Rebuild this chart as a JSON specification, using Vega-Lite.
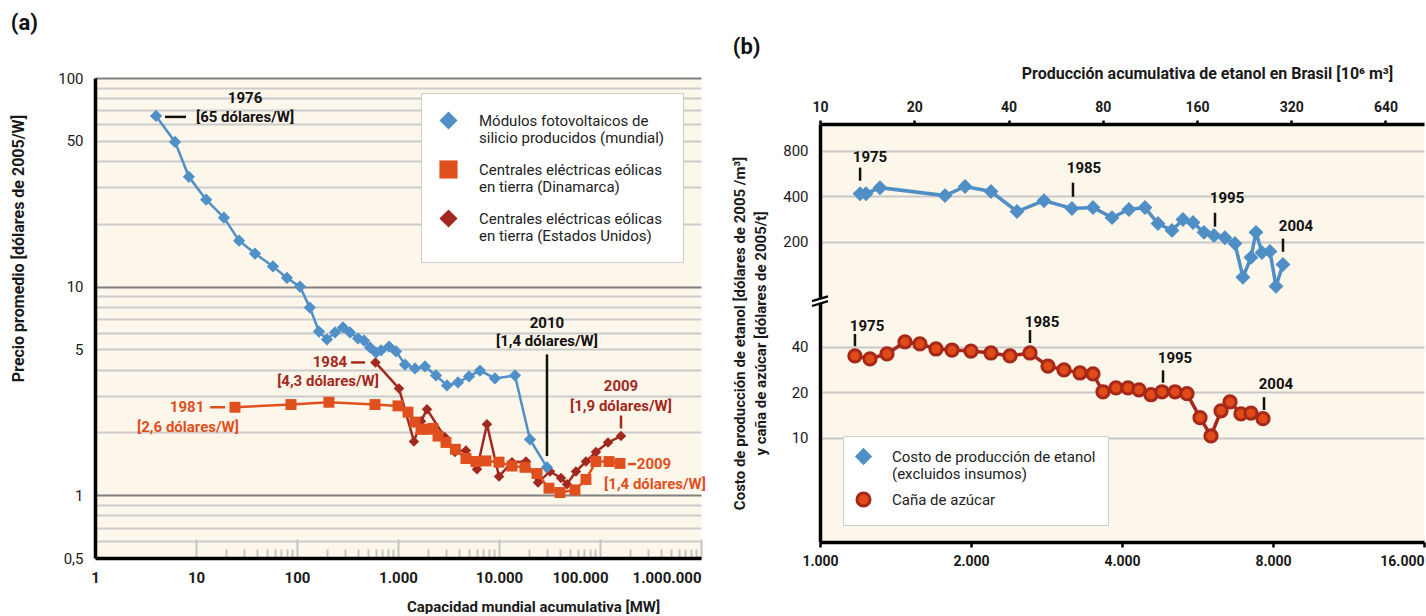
{
"$schema":"https://vega.github.io/schema/vega-lite/v6.json",
"background":"white",
"padding":{"left":10,"top":12,"right":0,"bottom":0},
"config":{"font":"Roboto","view":{"stroke":null},"axis":{"labelFont":"Roboto","titleFont":"Roboto","labelColor":"#1a1a1a","titleColor":"#1a1a1a","labelOverlap":false},"legend":{"labelFont":"Roboto"},"title":{"font":"Roboto"},"text":{"font":"Roboto"}},
"datasets":{
"a":[
{"s":"pv","x":4.02,"y":65.8},{"s":"pv","x":6.2,"y":49.4},{"s":"pv","x":8.5,"y":33.6},{"s":"pv","x":12.6,"y":26.1},{"s":"pv","x":18.9,"y":21.4},{"s":"pv","x":26.7,"y":16.6},{"s":"pv","x":38.4,"y":14.4},{"s":"pv","x":57.8,"y":12.5},{"s":"pv","x":79.6,"y":11.0},{"s":"pv","x":107,"y":10.0},{"s":"pv","x":134,"y":7.93},{"s":"pv","x":165,"y":6.09},{"s":"pv","x":198,"y":5.58},{"s":"pv","x":238,"y":6.03},{"s":"pv","x":285,"y":6.37},{"s":"pv","x":335,"y":6.03},{"s":"pv","x":402,"y":5.64},{"s":"pv","x":461,"y":5.51},{"s":"pv","x":528,"y":5.11},{"s":"pv","x":606,"y":4.83},{"s":"pv","x":679,"y":4.94},{"s":"pv","x":815,"y":5.16},{"s":"pv","x":955,"y":4.89},{"s":"pv","x":1173,"y":4.23},{"s":"pv","x":1473,"y":4.05},{"s":"pv","x":1850,"y":4.14},{"s":"pv","x":2377,"y":3.75},{"s":"pv","x":3055,"y":3.36},{"s":"pv","x":3926,"y":3.47},{"s":"pv","x":5045,"y":3.71},{"s":"pv","x":6485,"y":3.96},{"s":"pv","x":9120,"y":3.63},{"s":"pv","x":14390,"y":3.75},{"s":"pv","x":20270,"y":1.85},{"s":"pv","x":29850,"y":1.36},
{"s":"dk","x":24.3,"y":2.64},{"s":"dk","x":87.2,"y":2.72},{"s":"dk","x":207,"y":2.79},{"s":"dk","x":592,"y":2.72},{"s":"dk","x":1000,"y":2.68},{"s":"dk","x":1256,"y":2.5},{"s":"dk","x":1473,"y":2.24},{"s":"dk","x":1690,"y":2.07},{"s":"dk","x":1937,"y":2.07},{"s":"dk","x":2213,"y":2.09},{"s":"dk","x":2490,"y":1.92},{"s":"dk","x":2985,"y":1.79},{"s":"dk","x":3700,"y":1.66},{"s":"dk","x":4710,"y":1.5},{"s":"dk","x":5915,"y":1.45},{"s":"dk","x":7430,"y":1.46},{"s":"dk","x":10000,"y":1.44},{"s":"dk","x":13450,"y":1.38},{"s":"dk","x":18090,"y":1.36},{"s":"dk","x":23800,"y":1.27},{"s":"dk","x":31250,"y":1.08},{"s":"dk","x":40180,"y":1.03},{"s":"dk","x":56500,"y":1.06},{"s":"dk","x":72600,"y":1.19},{"s":"dk","x":91200,"y":1.45},{"s":"dk","x":122700,"y":1.45},{"s":"dk","x":157800,"y":1.42},
{"s":"us","x":598,"y":4.33},{"s":"us","x":1023,"y":3.25},{"s":"us","x":1439,"y":1.81},{"s":"us","x":1690,"y":2.26},{"s":"us","x":1937,"y":2.58},{"s":"us","x":2900,"y":1.9},{"s":"us","x":3665,"y":1.61},{"s":"us","x":4710,"y":1.64},{"s":"us","x":6055,"y":1.33},{"s":"us","x":7600,"y":2.19},{"s":"us","x":10000,"y":1.23},{"s":"us","x":13450,"y":1.44},{"s":"us","x":18500,"y":1.45},{"s":"us","x":24330,"y":1.15},{"s":"us","x":31990,"y":1.3},{"s":"us","x":41100,"y":1.21},{"s":"us","x":47100,"y":1.13},{"s":"us","x":57800,"y":1.3},{"s":"us","x":72600,"y":1.45},{"s":"us","x":91200,"y":1.61},{"s":"us","x":120000,"y":1.79},{"s":"us","x":161400,"y":1.92}
],
"aNotes":[
{"s":"k","x":30.6,"y":80.2,"t":"1976"},{"s":"k","x":30.6,"y":65.1,"t":"[65 dólares/W]"},
{"s":"us","x":212,"y":4.33,"t":"1984"},{"s":"us","x":203,"y":3.51,"t":"[4,3 dólares/W]"},
{"s":"dk","x":8.15,"y":2.64,"t":"1981"},{"s":"dk","x":8.33,"y":2.12,"t":"[2,6 dólares/W]"},
{"s":"k","x":29850,"y":6.72,"t":"2010"},{"s":"k","x":29850,"y":5.46,"t":"[1,4 dólares/W]"},
{"s":"us","x":161400,"y":3.32,"t":"2009"},{"s":"us","x":161400,"y":2.67,"t":"[1,9 dólares/W]"},
{"s":"dk","x":342600,"y":1.41,"t":"2009"},{"s":"dk","x":350500,"y":1.13,"t":"[1,4 dólares/W]"}
],
"aRules":[
{"s":"k","x":4.93,"x2":7.96,"y":65.1,"y2":65.1},
{"s":"us","x":343,"x2":471,"y":4.33,"y2":4.33},
{"s":"dk","x":13.8,"x2":19.4,"y":2.64,"y2":2.64},
{"s":"k","x":29850,"x2":29850,"y":4.73,"y2":1.54},
{"s":"us","x":161400,"x2":161400,"y":2.41,"y2":2.09},
{"s":"dk","x":189300,"x2":227300,"y":1.41,"y2":1.41}
],
"b":[
{"s":"e","x":1202,"y":415},{"s":"e","x":1235,"y":415},{"s":"e","x":1317,"y":455},{"s":"e","x":1775,"y":403},{"s":"e","x":1946,"y":463},{"s":"e","x":2192,"y":429},{"s":"e","x":2470,"y":316},{"s":"e","x":2796,"y":373},{"s":"e","x":3179,"y":331},{"s":"e","x":3501,"y":336},{"s":"e","x":3821,"y":288},{"s":"e","x":4130,"y":326},{"s":"e","x":4445,"y":336},{"s":"e","x":4718,"y":263},{"s":"e","x":5031,"y":237},{"s":"e","x":5292,"y":280},{"s":"e","x":5541,"y":267},{"s":"e","x":5828,"y":230},{"s":"e","x":6101,"y":219},{"s":"e","x":6416,"y":212},{"s":"e","x":6718,"y":194},{"s":"e","x":6969,"y":116},{"s":"e","x":7231,"y":157},{"s":"e","x":7398,"y":230},{"s":"e","x":7605,"y":169},{"s":"e","x":7889,"y":172},{"s":"e","x":8110,"y":101},{"s":"e","x":8375,"y":141},
{"s":"c","x":1174,"y":34.9},{"s":"c","x":1258,"y":33.4},{"s":"c","x":1360,"y":36.0},{"s":"c","x":1477,"y":43.2},{"s":"c","x":1582,"y":41.9},{"s":"c","x":1703,"y":38.8},{"s":"c","x":1833,"y":38.2},{"s":"c","x":2000,"y":37.6},{"s":"c","x":2192,"y":36.5},{"s":"c","x":2392,"y":34.9},{"s":"c","x":2622,"y":36.5},{"s":"c","x":2848,"y":29.9},{"s":"c","x":3065,"y":28.2},{"s":"c","x":3299,"y":26.9},{"s":"c","x":3501,"y":26.5},{"s":"c","x":3666,"y":20.2},{"s":"c","x":3891,"y":21.4},{"s":"c","x":4112,"y":21.4},{"s":"c","x":4325,"y":20.8},{"s":"c","x":4570,"y":19.3},{"s":"c","x":4807,"y":20.2},{"s":"c","x":5102,"y":20.2},{"s":"c","x":5390,"y":19.6},{"s":"c","x":5723,"y":13.6},{"s":"c","x":6018,"y":10.3},{"s":"c","x":6302,"y":15.1},{"s":"c","x":6568,"y":17.3},{"s":"c","x":6906,"y":14.4},{"s":"c","x":7231,"y":14.6},{"s":"c","x":7641,"y":13.4}
],
"bNotes":[
{"x":1258,"y":730,"t":"1975"},{"x":3360,"y":618,"t":"1985"},{"x":6478,"y":386,"t":"1995"},{"x":8891,"y":255,"t":"2004"},
{"x":1241,"y":55.1,"t":"1975"},{"x":2771,"y":58.5,"t":"1985"},{"x":5102,"y":33.8,"t":"1995"},{"x":8110,"y":22.8,"t":"2004"}
],
"bRules":[
{"x":1202,"y":618,"y2":506},{"x":3194,"y":491,"y2":396},{"x":6130,"y":310,"y2":251},{"x":8375,"y":209,"y2":171},
{"x":1174,"y":48.8,"y2":40.5},{"x":2622,"y":51.8,"y2":42.5},{"x":4829,"y":28.0,"y2":23.2},{"x":7677,"y":18.6,"y2":15.3}
],
"brk":[{"x":1000,"y":80}],
"sp":[{"v":0}]
},
"spacing":119,
"bounds":"flush",
"resolve":{"scale":{"x":"independent","y":"independent","fill":"independent","stroke":"independent","shape":"independent","color":"independent"},"legend":{"fill":"independent","stroke":"independent","shape":"independent","color":"independent"}},
"hconcat":[
{
"width":606,"height":480,
"view":{"fill":"#fdf6ea","stroke":null},
"title":{"text":"(a)","anchor":"start","frame":"bounds","fontSize":22,"fontWeight":"bold","color":"#111","offset":36},
"resolve":{"axis":{"x":"independent","y":"independent"}},
"layer":[
{"data":{"name":"a"},"mark":{"type":"point","opacity":0},
 "encoding":{"x":{"field":"x","type":"quantitative","scale":{"type":"log","domain":[1,1000000],"nice":false},
  "axis":{"orient":"bottom","values":[20,30,40,50,60,70,80,90,200,300,400,500,600,700,800,900,2000,3000,4000,5000,6000,7000,8000,9000,20000,30000,40000,50000,60000,70000,80000,90000,200000,300000,400000,500000,600000,700000,800000,900000],"offset":-9,"tickSize":9,"tickColor":"#c4c4c4","tickWidth":2,"domain":false,"labels":false,"grid":true,"gridOpacity":0,"title":null}},
  "y":{"field":"y","type":"quantitative","scale":{"type":"log","domain":[0.5,100],"nice":false},
  "axis":{"orient":"left","values":[0.5,0.6,0.7,0.8,0.9,1,2,3,4,5,6,7,8,9,10,20,30,40,50,60,70,80,90,100],"grid":true,"gridColor":{"condition":{"test":"datum.value == 1 || datum.value == 10 || datum.value == 100","value":"#808080"},"value":"#cbcbcb"},"gridWidth":2,"ticks":false,"domainColor":"#000","domainWidth":3.5,"labelExpr":"datum.value == 0.5 ? '0,5' : (datum.value == 1 || datum.value == 5 || datum.value == 10 || datum.value == 50 || datum.value == 100) ? format(datum.value, 'd') : ''","labelFontSize":15,"labelPadding":12,"title":"Precio promedio [dólares de 2005/W]","titleFontSize":16,"titleFontWeight":"bold","titlePadding":31,"titleY":170}}}},
{"data":{"name":"a"},"mark":{"type":"point","opacity":0},
 "encoding":{"x":{"field":"x","type":"quantitative",
  "axis":{"orient":"bottom","values":[10,100,1000,10000,100000,1000000],"offset":-19,"tickSize":19,"tickColor":"#c4c4c4","tickWidth":2,"domain":false,"labels":false,"grid":true,"gridOpacity":0,"title":null}},
  "y":{"field":"y","type":"quantitative","axis":null}}},
{"data":{"name":"a"},"transform":[{"filter":"datum.s == 'us'"}],"mark":{"type":"line","color":"#a3291f","strokeWidth":2.5},
 "encoding":{"x":{"field":"x","type":"quantitative",
  "axis":{"orient":"bottom","values":[1,10,100,1000,10000,100000,1000000],"ticks":false,"grid":true,"gridOpacity":0,"domainColor":"#000","domainWidth":3.5,"labelExpr":"replace(format(datum.value, ','), regexp(',', 'g'), '.')","labelFontSize":15,"labelFontWeight":"bold","labelPadding":12,"labelFlush":false,"labelAlign":{"condition":{"test":"datum.value == 1000000","value":"right"},"value":"center"},"labelOffset":{"condition":{"test":"datum.value == 100000","value":-20},"value":0},"title":"Capacidad mundial acumulativa [MW]","titleFontSize":15,"titleFontWeight":"bold","titlePadding":14,"titleX":438}},
  "y":{"field":"y","type":"quantitative","axis":null}}},
{"data":{"name":"a"},"transform":[{"filter":"datum.s == 'dk'"}],"mark":{"type":"line","color":"#e0501e","strokeWidth":2.5},
 "encoding":{"x":{"field":"x","type":"quantitative","axis":null},"y":{"field":"y","type":"quantitative","axis":null}}},
{"data":{"name":"a"},"transform":[{"filter":"datum.s == 'pv'"}],"mark":{"type":"line","color":"#5090c8","strokeWidth":2.5},
 "encoding":{"x":{"field":"x","type":"quantitative","axis":null},"y":{"field":"y","type":"quantitative","axis":null}}},
{"data":{"name":"a"},"transform":[{"filter":"datum.s == 'us'"}],"mark":{"type":"point","filled":true,"size":110,"opacity":1},
 "encoding":{"x":{"field":"x","type":"quantitative","axis":null},"y":{"field":"y","type":"quantitative","axis":null},
  "fill":{"field":"s","type":"nominal","scale":{"domain":["pv","dk","us"],"range":["#5090c8","#e0501e","#a3291f"]},"legend":{"orient":"none","legendX":326,"legendY":15,"title":null,"fillColor":"white","strokeColor":"#cccccc","padding":18,"symbolSize":330,"symbolStrokeWidth":0,"labelFontSize":15,"labelColor":"#222","labelOffset":21,"rowPadding":14,"labelLimit":400,"labelExpr":"datum.label == 'pv' ? ['Módulos fotovoltaicos de', 'silicio producidos (mundial)'] : datum.label == 'dk' ? ['Centrales eléctricas eólicas', 'en tierra (Dinamarca)'] : ['Centrales eléctricas eólicas', ' en tierra  (Estados Unidos)']"}},
  "shape":{"field":"s","type":"nominal","scale":{"domain":["pv","dk","us"],"range":["diamond","square","diamond"]},"legend":{"orient":"none","legendX":326,"legendY":15,"title":null,"fillColor":"white","strokeColor":"#cccccc","padding":18,"symbolSize":330,"symbolStrokeWidth":0,"labelFontSize":15,"labelColor":"#222","labelOffset":21,"rowPadding":14,"labelLimit":400,"labelExpr":"datum.label == 'pv' ? ['Módulos fotovoltaicos de', 'silicio producidos (mundial)'] : datum.label == 'dk' ? ['Centrales eléctricas eólicas', 'en tierra (Dinamarca)'] : ['Centrales eléctricas eólicas', ' en tierra  (Estados Unidos)']"}}}},
{"data":{"name":"a"},"transform":[{"filter":"datum.s == 'dk'"}],"mark":{"type":"point","filled":true,"size":120,"opacity":1},
 "encoding":{"x":{"field":"x","type":"quantitative","axis":null},"y":{"field":"y","type":"quantitative","axis":null},
  "fill":{"field":"s","type":"nominal"},"shape":{"field":"s","type":"nominal"}}},
{"data":{"name":"a"},"transform":[{"filter":"datum.s == 'pv'"}],"mark":{"type":"point","filled":true,"size":150,"opacity":1},
 "encoding":{"x":{"field":"x","type":"quantitative","axis":null},"y":{"field":"y","type":"quantitative","axis":null},
  "fill":{"field":"s","type":"nominal"},"shape":{"field":"s","type":"nominal"}}},
{"data":{"name":"aRules"},"mark":{"type":"rule","strokeWidth":2.5},
 "encoding":{"x":{"field":"x","type":"quantitative","axis":null},"x2":{"field":"x2"},"y":{"field":"y","type":"quantitative","axis":null},"y2":{"field":"y2"},
  "color":{"field":"s","type":"nominal","scale":{"domain":["k","dk","us"],"range":["#111111","#e0501e","#a3291f"]},"legend":null}}},
{"data":{"name":"aNotes"},"mark":{"type":"text","fontSize":15,"fontWeight":"bold","baseline":"middle","align":"center"},
 "encoding":{"x":{"field":"x","type":"quantitative","axis":null},"y":{"field":"y","type":"quantitative","axis":null},"text":{"field":"t"},
  "color":{"field":"s","type":"nominal","legend":null}}}
]
},
{"spacing":0,"bounds":"flush","vconcat":[
{"width":604,"height":46,"data":{"name":"sp"},"mark":{"type":"point","opacity":0},"encoding":{}},
{
"width":604,"height":418,
"view":{"fill":"#fdf6ea","stroke":null},
"title":{"text":"(b)","anchor":"start","frame":"bounds","fontSize":22,"fontWeight":"bold","color":"#111","offset":6},
"resolve":{"axis":{"x":"independent","y":"independent"}},
"layer":[
{"data":{"name":"b"},"transform":[{"filter":"datum.s == 'e'"}],"mark":{"type":"line","color":"#4f8fc6","strokeWidth":3.5},
 "encoding":{"x":{"field":"x","type":"quantitative","scale":{"type":"log","domain":[1000,16000],"nice":false},
  "axis":{"orient":"bottom","values":[1000,2000,4000,8000,16000],"labelExpr":"replace(format(datum.value, ','), regexp(',', 'g'), '.')","domainColor":"#000","domainWidth":3.5,"tickColor":"#000","tickWidth":2.5,"tickSize":5,"labelFontSize":14,"labelFontWeight":"bold","labelPadding":7,"labelFlush":false,"labelAlign":{"condition":{"test":"datum.value == 16000","value":"right"},"value":"center"},"grid":true,"gridOpacity":0,"title":null}},
  "y":{"field":"y","type":"quantitative","scale":{"type":"log","domain":[2.04,1202],"nice":false},
  "axis":{"orient":"left","values":[10,20,40,200,400,800],"format":"d","grid":true,"gridColor":"#c9c9c9","gridWidth":2,"ticks":false,"domainColor":"#000","domainWidth":3.5,"labelFontSize":15,"labelPadding":12,"title":["Costo de producción de etanol  [dólares de 2005 /m³]","y caña de azúcar  [dólares de 2005/t]"],"titleFontSize":15,"titleFontWeight":"bold","titleLineHeight":21,"titlePadding":14}}}},
{"data":{"name":"b"},"transform":[{"filter":"datum.s == 'c'"}],"mark":{"type":"line","color":"#a5281b","strokeWidth":3.5},
 "encoding":{"x":{"field":"x","type":"quantitative","axis":null},"y":{"field":"y","type":"quantitative","axis":null}}},
{"data":{"name":"b"},"transform":[{"filter":"datum.s == 'e'"}],"mark":{"type":"point","filled":true,"size":130,"strokeWidth":2.5,"opacity":1},
 "encoding":{"x":{"field":"x","type":"quantitative","axis":null},"y":{"field":"y","type":"quantitative","axis":null},
  "fill":{"field":"s","type":"nominal","scale":{"domain":["e","c"],"range":["#4f8fc6","#e04b18"]},"legend":{"orient":"none","legendX":23,"legendY":358,"title":null,"fillColor":"white","strokeColor":"#cccccc","padding":12,"symbolSize":170,"symbolStrokeWidth":3,"labelFontSize":15,"labelColor":"#222","labelOffset":20,"rowPadding":4,"labelLimit":400,"labelExpr":"datum.label == 'e' ? ['Costo de producción de etanol', ' (excluidos insumos)'] : 'Caña de azúcar'"}},
  "stroke":{"field":"s","type":"nominal","scale":{"domain":["e","c"],"range":["#4f8fc6","#a5281b"]},"legend":{"orient":"none","legendX":23,"legendY":358,"title":null,"fillColor":"white","strokeColor":"#cccccc","padding":12,"symbolSize":170,"symbolStrokeWidth":3,"labelFontSize":15,"labelColor":"#222","labelOffset":20,"rowPadding":4,"labelLimit":400,"labelExpr":"datum.label == 'e' ? ['Costo de producción de etanol', ' (excluidos insumos)'] : 'Caña de azúcar'"}},
  "shape":{"field":"s","type":"nominal","scale":{"domain":["e","c"],"range":["diamond","circle"]},"legend":{"orient":"none","legendX":23,"legendY":358,"title":null,"fillColor":"white","strokeColor":"#cccccc","padding":12,"symbolSize":170,"symbolStrokeWidth":3,"labelFontSize":15,"labelColor":"#222","labelOffset":20,"rowPadding":4,"labelLimit":400,"labelExpr":"datum.label == 'e' ? ['Costo de producción de etanol', ' (excluidos insumos)'] : 'Caña de azúcar'"}}}},
{"data":{"name":"b"},"transform":[{"filter":"datum.s == 'c'"}],"mark":{"type":"point","filled":true,"size":150,"strokeWidth":3,"opacity":1},
 "encoding":{"x":{"field":"x","type":"quantitative","axis":null},"y":{"field":"y","type":"quantitative","axis":null},
  "fill":{"field":"s","type":"nominal"},"stroke":{"field":"s","type":"nominal"},"shape":{"field":"s","type":"nominal"}}},
{"data":{"name":"bRules"},"mark":{"type":"rule","strokeWidth":2.5,"color":"#111"},
 "encoding":{"x":{"field":"x","type":"quantitative","axis":null},"y":{"field":"y","type":"quantitative","axis":null},"y2":{"field":"y2"}}},
{"data":{"name":"bNotes"},"mark":{"type":"text","fontSize":15,"fontWeight":"bold","baseline":"middle","align":"center","color":"#111"},
 "encoding":{"x":{"field":"x","type":"quantitative","axis":null},"y":{"field":"y","type":"quantitative","axis":null},"text":{"field":"t"}}},
{"data":{"name":"brk"},"mark":{"type":"point","shape":"M-1,-0.05 L1,-0.65 L1,-0.05 L-1,0.55 Z","filled":true,"fill":"#ffffff","size":256,"strokeWidth":0,"opacity":1},
 "encoding":{"x":{"field":"x","type":"quantitative","axis":null},"y":{"field":"y","type":"quantitative","axis":null}}},
{"data":{"name":"brk"},"mark":{"type":"point","shape":"M-1,-0.05 L1,-0.65 M-1,0.55 L1,-0.05","filled":false,"stroke":"#000000","size":256,"strokeWidth":2.2,"opacity":1},
 "encoding":{"x":{"field":"x","type":"quantitative","axis":null},"y":{"field":"y","type":"quantitative","axis":null}}},
{"data":{"name":"brk"},"mark":{"type":"point","opacity":0},
 "encoding":{"x":{"field":"x","type":"quantitative",
  "axis":{"orient":"top","values":[1000,1541.3,2375.7,3661.7,5643.9,8699,13408],"labelExpr":"datum.value < 1200 ? '10' : datum.value < 2000 ? '20' : datum.value < 3000 ? '40' : datum.value < 4500 ? '80' : datum.value < 7000 ? '160' : datum.value < 11000 ? '320' : '640'","domainColor":"#000","domainWidth":3.5,"tickColor":"#000","tickWidth":2.5,"tickSize":4,"labelFontSize":14,"labelFontWeight":"bold","labelPadding":6,"labelFlush":false,"grid":true,"gridOpacity":0,"title":"Producción acumulativa de etanol en Brasil [10⁶ m³]","titleFontSize":16,"titleFontWeight":"bold","titlePadding":19,"titleX":387}},
  "y":{"field":"y","type":"quantitative","axis":null}}}
]
}
]}
]
}
